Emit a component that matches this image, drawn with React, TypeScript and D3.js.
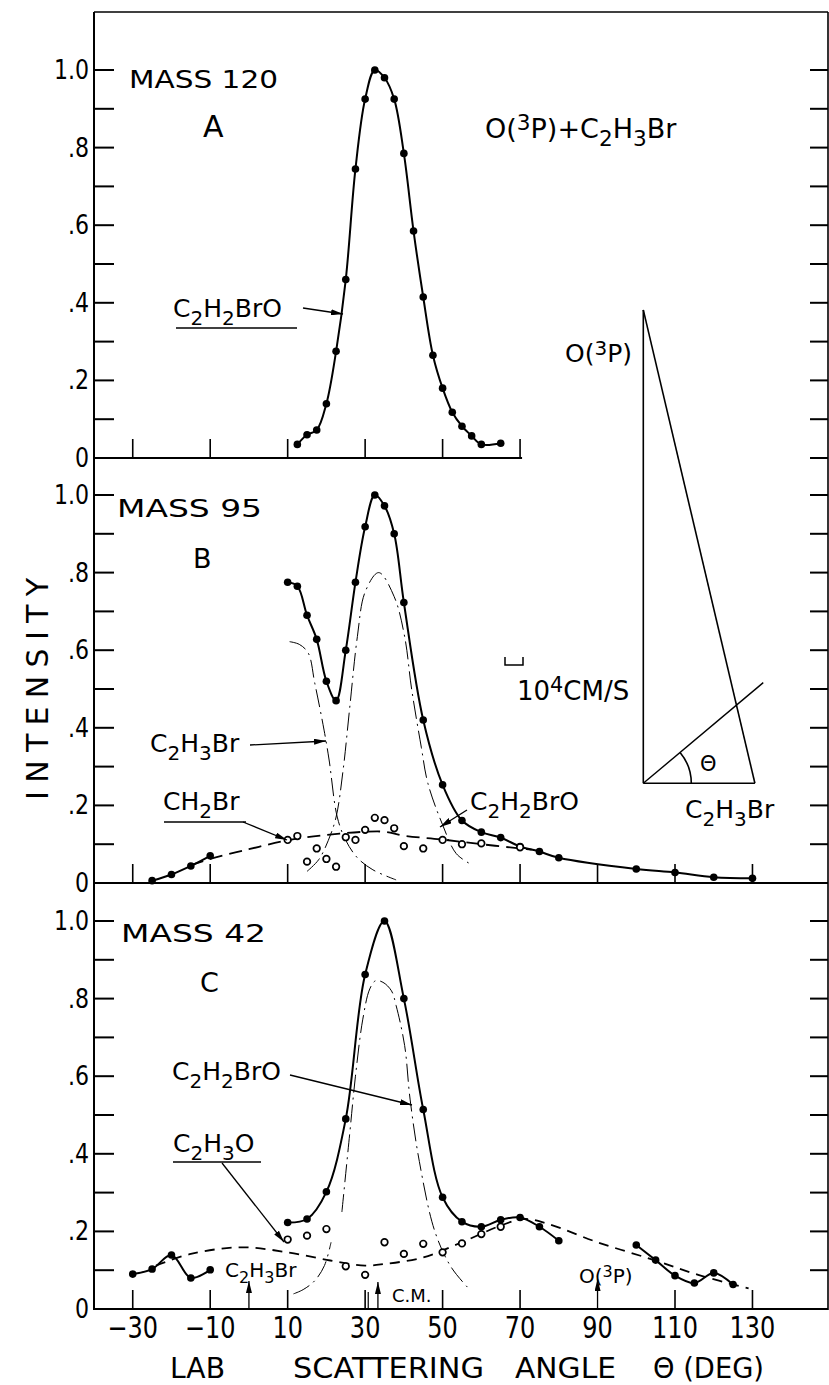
import React from 'react'
import * as d3 from 'd3'

const FONT = '"DejaVu Sans", Verdana, sans-serif'

// axis ticks
const angleTicks = [-30, -10, 10, 30, 50, 70, 90, 110, 130]
const angleTickLabels = ['\u221230', '\u221210', '10', '30', '50', '70', '90', '110', '130']
const intensityTicks = [0, 0.2, 0.4, 0.6, 0.8, 1.0]
const intensityLabels = ['0', '.2', '.4', '.6', '.8', '1.0']
const minorTicks = [0.1, 0.2, 0.3, 0.4, 0.5, 0.6, 0.7, 0.8, 0.9, 1.0]

// panel A - mass 120
const aAngle = [12.5, 15, 17.5, 20, 22.5, 25, 27.5, 30, 32.5, 35, 37.5, 40, 42.5, 45, 47.5, 50, 52.5, 55, 57.5, 60, 65]
const aSignal = [0.035, 0.06, 0.072, 0.14, 0.275, 0.46, 0.745, 0.925, 1.0, 0.98, 0.925, 0.785, 0.585, 0.415, 0.265, 0.18, 0.118, 0.082, 0.057, 0.035, 0.038]

// panel B - mass 95
const bAngle = [10, 12.5, 15, 17.5, 20, 22.5, 25, 27.5, 30, 32.5, 35, 37.5, 40, 45, 50, 55, 60, 65, 70, 75, 80, 100, 110, 120, 130]
const bSignal = [0.775, 0.765, 0.69, 0.628, 0.52, 0.47, 0.6, 0.775, 0.918, 1.0, 0.972, 0.9, 0.723, 0.42, 0.253, 0.161, 0.131, 0.117, 0.094, 0.081, 0.065, 0.036, 0.027, 0.015, 0.012]
const bLowAngle = [-25, -20, -15, -10]
const bLowSignal = [0.006, 0.022, 0.044, 0.07]
const bOpenAngle = [10, 12.5, 15, 17.5, 20, 22.5, 25, 27.5, 30, 32.5, 35, 37.5, 40, 45, 50, 55, 60, 70]
const bOpenSignal = [0.111, 0.121, 0.055, 0.089, 0.062, 0.042, 0.118, 0.111, 0.137, 0.168, 0.162, 0.141, 0.095, 0.089, 0.111, 0.1, 0.102, 0.092]
const bFitAngle = [-15, -10, 0, 10, 20, 30, 35, 40, 50, 60, 70, 73]
const bFitSignal = [0.046, 0.062, 0.087, 0.11, 0.124, 0.132, 0.132, 0.122, 0.112, 0.1, 0.089, 0.086]
const bElasticAngle = [10.5, 13, 15.3, 17, 19.4, 20.7, 22.8, 25, 28, 32, 38]
const bElasticSignal = [0.622, 0.615, 0.593, 0.515, 0.394, 0.317, 0.17, 0.11, 0.065, 0.034, 0.008]
const bProductAngle = [15, 18, 20.5, 22.5, 24.3, 26, 28, 30, 33.5, 37.5, 40.2, 42, 44.5, 46.2, 50, 53.5, 57]
const bProductSignal = [0.03, 0.06, 0.11, 0.17, 0.29, 0.45, 0.635, 0.75, 0.8, 0.738, 0.635, 0.5, 0.35, 0.257, 0.15, 0.076, 0.05]

// panel C - mass 42
const cAngle = [10, 15, 20, 25, 30, 35, 40, 45, 50, 55, 60, 65, 70, 75, 80]
const cSignal = [0.223, 0.232, 0.302, 0.49, 0.862, 1.0, 0.8, 0.514, 0.288, 0.225, 0.212, 0.23, 0.236, 0.212, 0.176]
const cLowAngle = [-30, -25, -20, -15, -10]
const cLowSignal = [0.09, 0.103, 0.139, 0.08, 0.101]
const cHighAngle = [100, 105, 110, 115, 120, 125]
const cHighSignal = [0.165, 0.126, 0.086, 0.067, 0.093, 0.063]
const cOpenAngle = [10, 15, 20, 25, 30, 35, 40, 45, 50, 55, 60, 65]
const cOpenSignal = [0.179, 0.189, 0.206, 0.11, 0.088, 0.172, 0.142, 0.168, 0.146, 0.169, 0.193, 0.212]
const cFitAngle = [-24, -15, -2, 10, 21, 30, 35, 45, 55, 65, 71, 77, 90, 104, 116, 129]
const cFitSignal = [0.112, 0.142, 0.159, 0.146, 0.125, 0.112, 0.116, 0.133, 0.172, 0.215, 0.232, 0.22, 0.172, 0.128, 0.088, 0.053]
const cElasticAngle = [11.5, 14, 17, 19.5, 21.2]
const cElasticSignal = [0.039, 0.05, 0.073, 0.112, 0.172]
const cProductAngle = [24, 26, 27.5, 29.4, 31.2, 32.7, 34.6, 36.8, 38, 40.2, 41.6, 44, 48, 52.2, 57]
const cProductSignal = [0.25, 0.45, 0.6, 0.747, 0.825, 0.846, 0.842, 0.82, 0.782, 0.679, 0.541, 0.38, 0.2, 0.108, 0.05]

// markers on the lab angle axis (deg)
const beamAngle = 0
const cmAngle = 33.3
const oxygenAngle = 90

// newton diagram, units of 10^4 cm/s
const vOxygen = 26.3
const vBromide = 6.2
const vCm = 8.7
const cmDeg = 40

const W = 829
const H = 1385
const x = d3.scaleLinear().domain([-40, 149.5]).range([94, 828])
const yA = d3.scaleLinear().domain([0, 1]).range([458, 70])
const yB = d3.scaleLinear().domain([0, 1]).range([883, 495])
const yC = d3.scaleLinear().domain([0, 1]).range([1309, 921])
const vScale = d3.scaleLinear().domain([0, 1]).range([0, 18])

const zip = (a: number[], b: number[]) => a.map((v, i) => [v, b[i]] as [number, number])

function path(ys: d3.ScaleLinear<number, number>, a: number[], b: number[]) {
  return d3.line<[number, number]>()
    .x(d => x(d[0]))
    .y(d => ys(d[1]))
    .curve(d3.curveCatmullRom.alpha(0.5))(zip(a, b)) || ''
}

// formula text: _ = subscript, ^ = superscript
function Chem({ x, y, text, size, anchor = 'start', sx = 1, ls = 0 }: any) {
  const parts: any[] = []
  let off = 0
  for (let i = 0; i < text.length; i++) {
    let ch = text[i]
    let mode = 0
    if (ch === '_') { mode = 1; ch = text[++i] }
    else if (ch === '^') { mode = -1; ch = text[++i] }
    const target = mode === 1 ? size * 0.3 : mode === -1 ? -size * 0.3 : 0
    parts.push(<tspan key={i} dy={target - off} fontSize={mode ? size * 0.8 : size}>{ch}</tspan>)
    off = target
  }
  return (
    <text transform={`translate(${x},${y}) scale(${sx},1)`} textAnchor={anchor}
      fontFamily={FONT} fontSize={size} letterSpacing={ls} fill="#000">{parts}</text>
  )
}

function Arrow({ x1, y1, x2, y2 }: any) {
  return <line x1={x1} y1={y1} x2={x2} y2={y2} stroke="#000" strokeWidth={1.3} markerEnd="url(#ah)" />
}

function Panel({ ys, xt, rightTicks }: any) {
  const base = ys(0)
  return (
    <g>
      {minorTicks.map(t => (
        <line key={'l' + t} x1={94} x2={114} y1={ys(t)} y2={ys(t)} stroke="#000" strokeWidth={2} />
      ))}
      {rightTicks.map((t: number) => (
        <line key={'r' + t} x1={810} x2={828} y1={ys(t)} y2={ys(t)} stroke="#000" strokeWidth={2} />
      ))}
      {xt.map((a: number) => (
        <line key={'x' + a} x1={x(a)} x2={x(a)} y1={base} y2={base - 19} stroke="#000" strokeWidth={1.6} />
      ))}
      {intensityTicks.map((t, i) => (
        <text key={'t' + t} transform={`translate(89,${ys(t) + 9}) scale(0.85,1)`} textAnchor="end"
          fontFamily={FONT} fontSize={26}>{intensityLabels[i]}</text>
      ))}
    </g>
  )
}

function Dots({ ys, a, b }: any) {
  return <g>{a.map((v: number, i: number) => <circle key={i} cx={x(v)} cy={ys(b[i])} r={3.8} fill="#000" />)}</g>
}

function Rings({ ys, a, b }: any) {
  return <g>{a.map((v: number, i: number) => <circle key={i} cx={x(v)} cy={ys(b[i])} r={3.3} fill="#fff" stroke="#000" strokeWidth={1.7} />)}</g>
}

export default function App() {
  const solid = { fill: 'none', stroke: '#000', strokeWidth: 2 }
  const dashed = { fill: 'none', stroke: '#000', strokeWidth: 1.8, strokeDasharray: '13 7' }
  const thin = { fill: 'none', stroke: '#000', strokeWidth: 1, strokeDasharray: '18 5 2 5' }

  // newton diagram
  const ox = 643.3
  const oy = 783.3
  const apexY = oy - vScale(vOxygen)
  const bx = ox + vScale(vBromide)
  const cmRad = (cmDeg * Math.PI) / 180
  const cx2 = ox + vScale(vCm) * Math.cos(cmRad)
  const cy2 = oy - vScale(vCm) * Math.sin(cmRad)
  const r = 48
  const arcD = `M${ox + r},${oy} A${r},${r} 0 0 0 ${ox + r * Math.cos(cmRad)},${oy - r * Math.sin(cmRad)}`

  const cBase = yC(0)

  return (
    <svg width={W} height={H} style={{ position: 'absolute', left: 0, top: 0, background: '#fff' }}>
      <defs>
        <marker id="ah" viewBox="0 0 12 6" refX={12} refY={3} markerWidth={12} markerHeight={6}
          orient="auto" markerUnits="userSpaceOnUse">
          <path d="M0,0 L12,3 L0,6 Z" fill="#000" />
        </marker>
      </defs>
      <rect x={0} y={0} width={W} height={H} fill="#fff" />

      {/* frame */}
      <line x1={94} x2={94} y1={12} y2={1310} stroke="#000" strokeWidth={2} />
      <line x1={94} x2={828} y1={12} y2={12} stroke="#000" strokeWidth={1.6} />
      <line x1={828} x2={828} y1={12} y2={1310} stroke="#000" strokeWidth={1.6} />
      <line x1={94} x2={x(70) + 2} y1={yA(0)} y2={yA(0)} stroke="#000" strokeWidth={2} />
      <line x1={94} x2={828} y1={yB(0)} y2={yB(0)} stroke="#000" strokeWidth={2} />
      <line x1={94} x2={828} y1={yC(0)} y2={yC(0)} stroke="#000" strokeWidth={2} />

      <Panel ys={yA} xt={angleTicks.filter(a => a <= 70)} rightTicks={[0, ...minorTicks]} />
      <Panel ys={yB} xt={angleTicks} rightTicks={minorTicks} />
      <Panel ys={yC} xt={angleTicks.filter(a => a !== oxygenAngle)} rightTicks={minorTicks} />

      {/* angle axis labels */}
      {angleTicks.map((a, i) => (
        <text key={a} transform={`translate(${x(a)},1338) scale(0.8,1)`} textAnchor="middle"
          fontFamily={FONT} fontSize={30}>{angleTickLabels[i]}</text>
      ))}
      <text x={170} y={1378} fontFamily={FONT} fontSize={29} textLength={55} lengthAdjust="spacingAndGlyphs">LAB</text>
      <text x={293} y={1378} fontFamily={FONT} fontSize={29} textLength={191} lengthAdjust="spacingAndGlyphs">SCATTERING</text>
      <text x={515} y={1378} fontFamily={FONT} fontSize={29} textLength={101} lengthAdjust="spacingAndGlyphs">ANGLE</text>
      <text x={653} y={1378} fontFamily={FONT} fontSize={29} textLength={111} lengthAdjust="spacingAndGlyphs">{'\u0398 (DEG)'}</text>
      <text transform="translate(48,800) rotate(-90)" fontFamily={FONT} fontSize={30}
        textLength={222} lengthAdjust="spacing">INTENSITY</text>

      {/* panel A */}
      <path d={path(yA, aAngle, aSignal)} {...solid} />
      <Dots ys={yA} a={aAngle} b={aSignal} />
      <text x={129} y={88} fontFamily={FONT} fontSize={25} textLength={149} lengthAdjust="spacingAndGlyphs">MASS 120</text>
      <text x={203} y={137} fontFamily={FONT} fontSize={30}>A</text>
      <Chem x={485} y={138} size={27} text="O(^3P)+C_2H_3Br" />
      <Chem x={173} y={317} size={25} text="C_2H_2BrO" />
      <line x1={176} x2={297} y1={328} y2={328} stroke="#000" strokeWidth={1.6} />
      <Arrow x1={303} y1={308} x2={343} y2={314} />

      {/* panel B */}
      <path d={path(yB, bFitAngle, bFitSignal)} {...dashed} />
      <path d={path(yB, bElasticAngle, bElasticSignal)} {...thin} />
      <path d={path(yB, bProductAngle, bProductSignal)} {...thin} />
      <path d={path(yB, bAngle, bSignal)} {...solid} />
      <path d={path(yB, bLowAngle, bLowSignal)} {...solid} />
      <Dots ys={yB} a={bAngle} b={bSignal} />
      <Dots ys={yB} a={bLowAngle} b={bLowSignal} />
      <Rings ys={yB} a={bOpenAngle} b={bOpenSignal} />
      <text x={117} y={517} fontFamily={FONT} fontSize={25} textLength={145} lengthAdjust="spacingAndGlyphs">MASS 95</text>
      <text x={193} y={568} fontFamily={FONT} fontSize={27}>B</text>
      <Chem x={150} y={752} size={25} text="C_2H_3Br" />
      <Arrow x1={250} y1={745} x2={326} y2={741} />
      <Chem x={163} y={810} size={25} text="CH_2Br" />
      <line x1={164} x2={246} y1={822} y2={822} stroke="#000" strokeWidth={1.6} />
      <Arrow x1={243} y1={822} x2={287} y2={840} />
      <Chem x={470} y={810} size={25} text="C_2H_2BrO" />
      <Arrow x1={467} y1={810} x2={440} y2={827} />
      <path d="M505,657 V665 H523 V657" fill="none" stroke="#000" strokeWidth={1.5} />
      <Chem x={517} y={700} size={26} text="10^4CM/S" />

      {/* newton diagram */}
      <line x1={ox} x2={ox} y1={oy} y2={apexY} stroke="#000" strokeWidth={1.6} />
      <line x1={ox} x2={bx} y1={oy} y2={oy} stroke="#000" strokeWidth={1.6} />
      <line x1={ox} x2={bx} y1={apexY} y2={oy} stroke="#000" strokeWidth={1.6} />
      <line x1={ox} x2={cx2} y1={oy} y2={cy2} stroke="#000" strokeWidth={1.4} />
      <path d={arcD} fill="none" stroke="#000" strokeWidth={1.6} />
      <text x={700} y={771} fontFamily={FONT} fontSize={21}>{'\u0398'}</text>
      <Chem x={565} y={362} size={25} text="O(^3P)" />
      <Chem x={685} y={818} size={25} text="C_2H_3Br" />

      {/* panel C */}
      <path d={path(yC, cFitAngle, cFitSignal)} {...dashed} strokeDasharray="10 7" />
      <path d={path(yC, cElasticAngle, cElasticSignal)} {...thin} />
      <path d={path(yC, cProductAngle, cProductSignal)} {...thin} />
      <path d={path(yC, cAngle, cSignal)} {...solid} />
      <path d={path(yC, cLowAngle, cLowSignal)} {...solid} />
      <path d={path(yC, cHighAngle, cHighSignal)} {...solid} />
      <Dots ys={yC} a={cAngle} b={cSignal} />
      <Dots ys={yC} a={cLowAngle} b={cLowSignal} />
      <Dots ys={yC} a={cHighAngle} b={cHighSignal} />
      <Rings ys={yC} a={cOpenAngle} b={cOpenSignal} />
      <text x={121} y={942} fontFamily={FONT} fontSize={25} textLength={145} lengthAdjust="spacingAndGlyphs">MASS 42</text>
      <text x={200} y={992} fontFamily={FONT} fontSize={27}>C</text>
      <Chem x={172} y={1080} size={25} text="C_2H_2BrO" />
      <Arrow x1={290} y1={1075} x2={412} y2={1105} />
      <Chem x={173} y={1152} size={25} text="C_2H_3O" />
      <line x1={173} x2={261} y1={1162} y2={1162} stroke="#000" strokeWidth={1.6} />
      <Arrow x1={222} y1={1163} x2={284} y2={1242} />
      <Chem x={225} y={1277} size={20} text="C_2H_3Br" />
      <line x1={x(30.8)} x2={x(30.8)} y1={cBase} y2={cBase - 17} stroke="#000" strokeWidth={1.2} />
      <Arrow x1={x(beamAngle)} y1={cBase} x2={x(beamAngle)} y2={cBase - 28} />
      <Arrow x1={x(cmAngle)} y1={cBase} x2={x(cmAngle)} y2={cBase - 27} />
      <Arrow x1={x(oxygenAngle)} y1={cBase} x2={x(oxygenAngle)} y2={cBase - 30} />
      <text x={392} y={1302} fontFamily={FONT} fontSize={18}>C.M.</text>
      <Chem x={579} y={1283} size={20} text="O(^3P)" />
    </svg>
  )
}
